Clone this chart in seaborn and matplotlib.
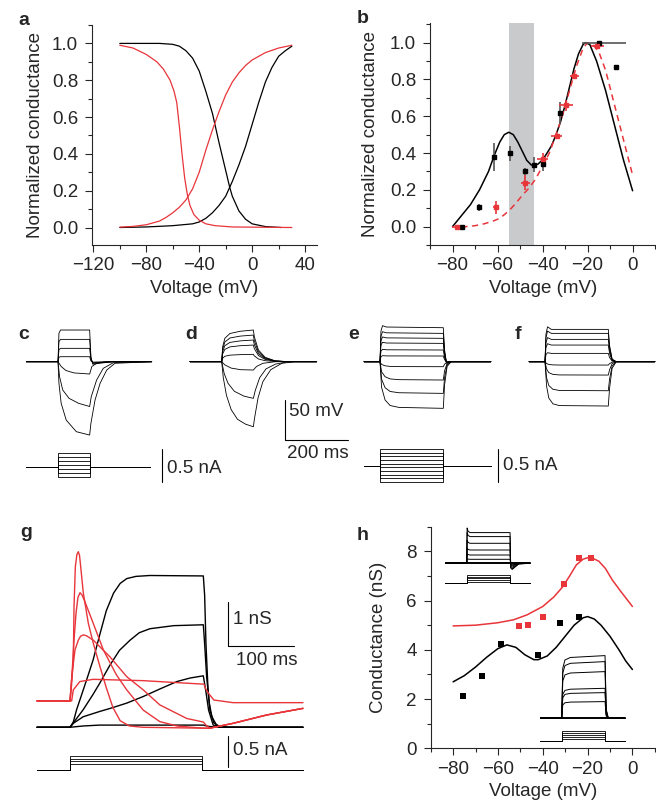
import matplotlib.pyplot as plt
import numpy as np
import seaborn as sns
from matplotlib.ticker import MultipleLocator

sns.set_style('ticks')
plt.rcParams['font.family'] = ['Liberation Sans', 'DejaVu Sans']
plt.rcParams['font.size'] = 13.5

W, H = 656, 802
RED = '#e8353a'
BAND = '#c9cacc'
FS = 13.5

# ---------------- a: activation / inactivation (mV, normalized g)
a_blk_act_v = [-100, -80, -60, -45, -40, -35, -30, -25, -20, -15, -10, -5, 0, 5, 10, 15, 20, 25, 30]
a_blk_act_g = [0.0, 0.003, 0.01, 0.02, 0.03, 0.05, 0.08, 0.12, 0.17, 0.25, 0.34, 0.44, 0.56, 0.68, 0.79, 0.87, 0.93, 0.96, 0.985]
a_blk_inact_v = [-100, -70, -60, -55, -50, -45, -40, -35, -30, -25, -20, -17, -15, -10, -5, 0, 10, 22]
a_blk_inact_g = [1.0, 1.0, 0.995, 0.985, 0.96, 0.92, 0.85, 0.74, 0.62, 0.46, 0.31, 0.22, 0.17, 0.09, 0.045, 0.02, 0.005, 0.0]
a_red_act_v = [-100, -90, -80, -70, -65, -60, -55, -50, -45, -40, -35, -30, -25, -20, -15, -10, -5, 0, 10, 20, 30]
a_red_act_g = [0.002, 0.006, 0.015, 0.035, 0.055, 0.08, 0.11, 0.15, 0.21, 0.3, 0.42, 0.53, 0.63, 0.72, 0.79, 0.84, 0.88, 0.91, 0.95, 0.975, 0.99]
a_red_inact_v = [-100, -90, -80, -72, -67, -62, -59, -57, -55, -53, -51, -49, -47, -44, -40, -35, -28, -15, 30]
a_red_inact_g = [0.99, 0.975, 0.94, 0.9, 0.86, 0.8, 0.74, 0.68, 0.55, 0.4, 0.27, 0.18, 0.12, 0.07, 0.04, 0.02, 0.01, 0.003, 0.0]

# ---------------- b: conductance vs voltage
b_blk_fit_v = [-80, -76, -72, -68, -64, -61.5, -59, -57, -55, -53, -51, -49, -47, -45, -43.7, -42, -40, -38,
               -36, -34, -32, -30, -28, -26, -24, -22, -21, -19, -16, -12, -8, -4, 0]
b_blk_fit_g = [0.0, 0.06, 0.12, 0.2, 0.3, 0.386, 0.46, 0.5, 0.513, 0.5, 0.46, 0.41, 0.36, 0.335, 0.332, 0.34,
               0.363, 0.40, 0.44, 0.5, 0.57, 0.66, 0.76, 0.86, 0.94, 0.99, 1.0, 0.99, 0.90, 0.74, 0.55, 0.36, 0.195]
b_red_fit_v = [-76, -74, -70, -66, -62, -59, -55, -52, -49, -46, -43, -40, -37, -34, -31, -28, -25, -22,
               -20, -18, -15, -12, -8, -4, 0]
b_red_fit_g = [-0.005, 0.0, 0.005, 0.015, 0.03, 0.045, 0.085, 0.125, 0.17, 0.21, 0.26, 0.33, 0.4, 0.5, 0.61,
               0.74, 0.87, 0.97, 1.0, 0.995, 0.95, 0.85, 0.66, 0.47, 0.28]
b_blk_v = [-75.6, -68.1, -61.6, -54.5, -47.7, -43.7, -40.0, -32.1, -14.8, -7.4]
b_blk_g = [0.0, 0.105, 0.377, 0.399, 0.301, 0.336, 0.34, 0.617, 0.998, 0.867]
b_blk_yerr = [0.0, 0.02, 0.075, 0.04, 0.02, 0.04, 0.04, 0.06, 0.0, 0.0]
b_blk_xerr = [[0, 0, 0, 0, 1.2, 0, 0, 0, 7.5, 0], [0, 0, 0, 0, 1.2, 0, 0, 0, 12, 0]]
b_red_v = [-78.2, -60.7, -47.7, -40.0, -33.8, -29.6, -25.9, -15.6]
b_red_g = [0.0, 0.105, 0.238, 0.37, 0.49, 0.66, 0.817, 0.98]
b_red_yerr = [0.0, 0.035, 0.04, 0.03, 0.0, 0.03, 0.0, 0.0]
b_red_xerr = [2.0, 1.5, 2.0, 2.5, 2.5, 3.0, 2.0, 3.0]
b_band = (-55, -44)

# ---------------- c-f: voltage responses (ms, mV from rest) and current steps (nA)
c_up_levels = [39.6, 27.9, 16.7, 6.25]
c_up_t = [-100, 0, 3, 8, 100, 104, 110, 130, 175, 296]
c_up_frac = [0, 0, 0.9, 1.0, 1.0, 0.15, -0.08, -0.05, 0, 0]
c_down = [
    ([-100, 0, 10, 25, 50, 100, 107, 122, 150, 296], [0, 0, -6, -11, -14, -15.4, -6, -2, 0, 0]),
    ([-100, 0, 5, 15, 35, 65, 100, 105, 122, 143, 175, 296], [0, 0, -18.8, -35.4, -45.8, -52, -56, -43.8, -22.9, -8.3, -1.2, 0]),
    ([-100, 0, 3, 10, 26, 58, 100, 104, 117, 133, 154, 180, 296], [0, 0, -27, -52, -73, -87.5, -91.7, -77, -48, -27, -10.4, -2, 0]),
]
c_steps = [0.21, 0.15, 0.09, 0.03, -0.03, -0.09, -0.15]

d_up_levels = [39.6, 33.3, 27.1, 20.8, 9.2]
d_up_t = [-100, 0, 3, 10, 26, 58, 100, 103, 116, 137, 168, 210, 300]
d_up_frac = [0, 0, 0.47, 0.74, 0.89, 0.96, 1.0, 0.79, 0.37, 0.14, 0.03, 0, 0]
d_down = [
    ([-100, 0, 10, 30, 60, 100, 110, 130, 170, 300], [0, 0, -4, -8, -10, -10.4, -6, -2, 0, 0]),
    ([-100, 0, 8, 20, 40, 70, 100, 106, 120, 140, 170, 210, 300], [0, 0, -15, -27, -37, -43, -45.8, -36, -20, -9, -3, 0, 0]),
    ([-100, 0, 5, 15, 30, 50, 75, 100, 104, 115, 130, 155, 190, 230, 300],
     [0, 0, -20, -42, -60, -72, -78, -81.3, -70, -45, -25, -10, -2, 0, 0]),
]

e_levels = [42.5, 35.4, 29.2, 22.9, 14.6, 7.1, -6.25, -22.9, -39.6, -58.3]
e_up_t = [-50, 0, 3, 8, 20, 200, 204, 210, 220, 350]
e_up_frac = [0, 0, 0.9, 1.06, 1.02, 1.0, 0.35, -0.04, 0, 0]
e_dn_t = [-50, 0, 5, 16, 32, 60, 200, 204, 212, 225, 350]
e_dn_frac = [0, 0, 0.55, 0.82, 0.94, 0.98, 1.0, 0.5, 0.1, 0, 0]
e_steps = [0.25, 0.19, 0.14, 0.08, 0.025, -0.025, -0.08, -0.14, -0.19, -0.24]

f_levels = [40.4, 35.4, 27.9, 20.8, 10.4, -4.2, -16.7, -36.3, -55.4]
f_up_t = [-50, 0, 3, 8, 20, 200, 204, 212, 225, 347]
f_up_frac = [0, 0, 0.85, 1.08, 1.0, 1.0, 0.5, 0.08, 0, 0]
f_dn_t = [-50, 0, 5, 12, 25, 45, 200, 204, 212, 225, 347]
f_dn_frac = [0, 0, 0.55, 0.82, 0.95, 0.99, 1.0, 0.6, 0.15, 0, 0]

# ---------------- g: conductance time courses (ms, nS)
g_black = [
    ([-50, 0, 5, 10, 25, 35, 45, 55, 66, 76, 86, 100, 121, 202, 204, 206, 209, 212, 218, 225, 240, 353],
     [0, 0, 0.12, 0.4, 1.07, 1.53, 2.1, 2.65, 3.05, 3.27, 3.38, 3.43, 3.45, 3.44, 3.0, 1.9, 0.9, 0.39, 0.1, 0.03, 0, 0]),
    ([-50, 0, 10, 20, 35, 45, 60, 75, 91, 105, 121, 157, 202, 204, 207, 211, 215, 222, 235, 353],
     [0, 0, 0.2, 0.4, 0.75, 1.0, 1.4, 1.75, 1.98, 2.15, 2.24, 2.31, 2.33, 1.9, 1.15, 0.55, 0.24, 0.05, 0, 0]),
    ([-50, 0, 5, 20, 45, 61, 86, 111, 136, 162, 182, 202, 206, 210, 217, 230, 353],
     [0, 0, 0.09, 0.24, 0.36, 0.43, 0.55, 0.7, 0.87, 1.04, 1.12, 1.17, 0.8, 0.39, 0.05, 0, 0]),
    ([-50, 0, 20, 45, 202, 210, 225, 353], [0, 0, 0.03, 0.05, 0.05, 0.02, 0, 0]),
]
g_red = [
    ([-50, 0, 2.5, 5, 15, 35, 111, 203, 206, 210, 218, 247, 353],
     [0.6, 0.6, 0.6, 0.85, 1.04, 1.09, 1.06, 0.98, 0.86, 0.77, 0.62, 0.56, 0.56]),
    ([-50, 0, 2, 5, 6.1, 8.1, 10.5, 12.6, 14.5, 16.2, 20.2, 27.8, 35.3, 45, 55, 65, 76, 90, 111, 203, 212, 247, 298, 353],
     [0.6, 0.6, 0.9, 1.52, 2.74, 3.65, 3.93, 3.99, 3.9, 3.65, 3.05, 2.36, 1.91, 1.4, 0.9, 0.45, 0.15, 0.03, 0, -0.02, -0.02, 0.09, 0.28, 0.43]),
    ([-50, 0, 3, 6.1, 9.1, 12, 15.2, 18.5, 22.7, 35.3, 50.5, 70, 86, 111, 136, 162, 185, 203, 212, 247, 298, 353],
     [0.6, 0.6, 1.2, 1.98, 2.59, 2.95, 3.06, 3.0, 2.85, 2.36, 1.76, 1.2, 0.85, 0.39, 0.13, 0.03, 0, -0.02, -0.02, 0.09, 0.28, 0.43]),
    ([-50, 0, 3, 7.6, 12.6, 16, 20.2, 25, 35.3, 60.6, 86, 111, 136, 177, 202, 206, 212, 247, 298, 353],
     [0.6, 0.6, 1.2, 1.76, 1.98, 2.07, 2.1, 2.08, 1.98, 1.6, 1.15, 0.85, 0.51, 0.2, 0.12, 0.05, -0.02, 0.09, 0.28, 0.43]),
]
g_steps = [0.23, 0.18, 0.14, 0.1]

# ---------------- h: conductance vs voltage with insets
h_red_fit_v = [-80, -70, -60, -53, -47, -40, -35, -31, -28, -25, -22, -20, -18, -15, -12, -9, -5, 0]
h_red_fit_g = [4.97, 5.0, 5.1, 5.22, 5.42, 5.76, 6.15, 6.57, 7.0, 7.45, 7.68, 7.74, 7.73, 7.6, 7.3, 6.84, 6.35, 5.76]
h_blk_fit_v = [-80, -75, -70, -65, -60, -56, -52, -48, -44, -42, -38, -34, -30, -26, -22, -20, -17, -14, -10, -6, -3, 0]
h_blk_fit_g = [2.7, 2.95, 3.3, 3.7, 4.05, 4.2, 4.1, 3.8, 3.6, 3.6, 3.75, 4.1, 4.55, 5.0, 5.3, 5.35, 5.25, 5.0, 4.55, 4.0, 3.55, 3.2]
h_blk_v = [-75.6, -67.1, -58.8, -41.9, -32.1, -23.7]
h_blk_g = [2.14, 2.94, 4.24, 3.77, 5.08, 5.35]
h_red_v = [-50.8, -46.4, -39.7, -30.7, -23.7, -18.5]
h_red_g = [4.97, 5.01, 5.35, 6.68, 7.74, 7.74]
# insets (ms, pA) and their current steps (nA)
hi1_levels = [307, 267, 200, 133, 83, 40]
hi1_t = [-100, 0, 2, 6, 15, 200, 203, 210, 240, 292]
hi1_frac = [0, 0, 1.15, 1.05, 1.0, 1.0, -0.15, -0.2, -0.02, 0]
hi1_steps = [0.05, 0.1, 0.15, 0.2, 0.25]
hi2_levels = [627, 567, 467, 300, 257, 167]
hi2_t = [-100, 0, 5, 15, 40, 200, 205, 215, 292]
hi2_frac = [0, 0, 0.8, 0.93, 0.97, 1.0, 0.15, 0, 0]
hi2_steps = [0.06, 0.12, 0.18, 0.24, 0.3]

fig = plt.figure(figsize=(W / 100, H / 100), dpi=100)


def px_axes(left, top, width, height):
    return fig.add_axes([left / W, 1 - (top + height) / H, width / W, height / H])


def trace_axes(left, top, width, height, x0, y0, sx, sy):
    # axes whose data origin sits at pixel (x0, y0), sx/sy pixels per data unit
    ax = px_axes(left, top, width, height)
    ax.set_xlim((left - x0) / sx, (left + width - x0) / sx)
    ax.set_ylim((y0 - top - height) / sy, (y0 - top) / sy)
    ax.axis('off')
    return ax


def style_ax(ax, xmin, ymin):
    sns.despine(ax=ax)
    for s in ['left', 'bottom']:
        ax.spines[s].set_linewidth(0.8)
    ax.tick_params(which='major', direction='out', length=5, width=0.8, labelsize=FS)
    ax.tick_params(which='minor', direction='out', length=3, width=0.8)
    ax.tick_params(axis='y', pad=5)
    ax.tick_params(axis='x', pad=4)
    ax.xaxis.set_minor_locator(MultipleLocator(xmin))
    ax.yaxis.set_minor_locator(MultipleLocator(ymin))
    ax.set_xlabel('Voltage (mV)', labelpad=4, fontsize=FS)


def steps(ax, levels, t_on, t_off, t0, t1):
    for lv in levels:
        ax.plot([t0, t_on, t_on, t_off, t_off, t1], [0, 0, lv, lv, 0, 0], color='k', lw=0.6)


def family(ax, levels, t_up, f_up, t_dn, f_dn, lw=0.6):
    for lv in levels:
        if lv >= 0:
            ax.plot(t_up, np.array(f_up) * lv, color='k', lw=lw)
        else:
            ax.plot(t_dn, np.array(f_dn) * lv, color='k', lw=lw)


# ---- a
ax = px_axes(92, 25, 225, 220)
sns.lineplot(x=a_blk_act_v, y=a_blk_act_g, ax=ax, color='k', lw=0.9)
sns.lineplot(x=a_blk_inact_v, y=a_blk_inact_g, ax=ax, color='k', lw=0.9)
sns.lineplot(x=a_red_act_v, y=a_red_act_g, ax=ax, color=RED, lw=0.9)
sns.lineplot(x=a_red_inact_v, y=a_red_inact_g, ax=ax, color=RED, lw=0.9)
ax.set_xlim(-121, 49)
ax.set_ylim(-0.095, 1.1)
ax.set_xticks([-120, -80, -40, 0, 40])
ax.set_yticks([0, 0.2, 0.4, 0.6, 0.8, 1.0])
style_ax(ax, 20, 0.1)
ax.set_ylabel('Normalized conductance', labelpad=6, fontsize=FS)

# ---- b
ax = px_axes(430, 23, 226, 222)
ax.axvspan(*b_band, color=BAND, lw=0, zorder=0)
sns.lineplot(x=b_blk_fit_v, y=b_blk_fit_g, ax=ax, color='k', lw=1.1)
ax.plot(b_red_fit_v, b_red_fit_g, color=RED, lw=1.1, ls=(0, (4, 3)))
ax.errorbar(b_blk_v, b_blk_g, yerr=b_blk_yerr, xerr=b_blk_xerr, fmt='s', ms=3.2, color='k',
            ecolor='#555555', elinewidth=1.2, capsize=0, zorder=4)
ax.errorbar(b_red_v, b_red_g, yerr=b_red_yerr, xerr=b_red_xerr, fmt='s', ms=3.2, color=RED,
            ecolor=RED, elinewidth=1.2, capsize=0, zorder=4)
ax.set_xlim(-90, 10.4)
ax.set_ylim(-0.1, 1.107)
ax.set_xticks([-80, -60, -40, -20, 0])
ax.set_yticks([0, 0.2, 0.4, 0.6, 0.8, 1.0])
style_ax(ax, 10, 0.1)
ax.set_ylabel('Normalized conductance', labelpad=8, fontsize=FS)

# ---- c
SX, SY = 0.3165, 0.8
ax = trace_axes(20, 318, 145, 125, 58, 361.7, SX, SY)
family(ax, c_up_levels, c_up_t, c_up_frac, c_up_t, c_up_frac)
for t, v in c_down:
    ax.plot(t, v, color='k', lw=0.6)
ax = trace_axes(20, 440, 190, 50, 58, 466.7, SX, 66)
steps(ax, c_steps, 0, 100, -100, 290)
ax.plot([328, 328], [0.27, -0.23], color='k', lw=0.8)
ax.text(345, -0.02, '0.5 nA', va='center', ha='left', fontsize=FS)

# ---- d (with shared scale bar)
ax = trace_axes(180, 318, 180, 145, 221.7, 361.7, SX, SY)
family(ax, d_up_levels, d_up_t, d_up_frac, d_up_t, d_up_frac)
for t, v in d_down:
    ax.plot(t, v, color='k', lw=0.6)
ax.plot([200, 200, 400], [-48, -98, -98], color='k', lw=0.8)
ax.text(212, -62, '50 mV', va='center', ha='left', fontsize=FS)
ax.text(207, -104, '200 ms', va='top', ha='left', fontsize=FS)

# ---- e
ax = trace_axes(355, 318, 140, 125, 380, 361.7, SX, SY)
family(ax, e_levels, e_up_t, e_up_frac, e_dn_t, e_dn_frac)
ax = trace_axes(355, 440, 200, 50, 380, 465.7, SX, 66)
steps(ax, e_steps, 0, 200, -50, 350)
ax.plot([373, 373], [0.25, -0.25], color='k', lw=0.8)
ax.text(390, 0.0, '0.5 nA', va='center', ha='left', fontsize=FS)

# ---- f
ax = trace_axes(520, 318, 136, 125, 545, 361.7, SX, SY)
family(ax, f_levels, f_up_t, f_up_frac, f_dn_t, f_dn_frac)

# ---- g
ax = trace_axes(30, 540, 280, 195, 70, 727.3, 0.66, 44)
for t, gv in g_black:
    ax.plot(t, gv, color='k', lw=1.0)
for t, gv in g_red:
    ax.plot(t, gv, color=RED, lw=1.0)
ax.plot([240, 240, 340], [2.85, 1.85, 1.85], color='k', lw=0.8)
ax.text(247, 2.44, '1 nS', va='center', ha='left', fontsize=FS)
ax.text(252, 1.72, '100 ms', va='top', ha='left', fontsize=FS)
ax = trace_axes(30, 730, 280, 50, 70, 770, 0.66, 62)
steps(ax, g_steps, 0, 200, -50, 353)
ax.plot([240, 240], [0.55, 0.05], color='k', lw=0.8)
ax.text(247, 0.32, '0.5 nA', va='center', ha='left', fontsize=FS)

# ---- h
ax = px_axes(430.7, 526.7, 225, 221.6)
sns.lineplot(x=h_red_fit_v, y=h_red_fit_g, ax=ax, color=RED, lw=1.1)
sns.lineplot(x=h_blk_fit_v, y=h_blk_fit_g, ax=ax, color='k', lw=1.1)
sns.scatterplot(x=h_red_v, y=h_red_g, ax=ax, color=RED, marker='s', s=14, linewidth=0, zorder=4)
sns.scatterplot(x=h_blk_v, y=h_blk_g, ax=ax, color='k', marker='s', s=14, linewidth=0, zorder=4)
ax.set_xlim(-90, 10.4)
ax.set_ylim(0, 9)
ax.set_xticks([-80, -60, -40, -20, 0])
ax.set_yticks([0, 2, 4, 6, 8])
style_ax(ax, 10, 1)
ax.set_ylabel('Conductance (nS)', labelpad=14, fontsize=FS)

ax = trace_axes(445, 520, 86, 55, 466.7, 563.3, 0.2167, 0.1)
family(ax, hi1_levels, hi1_t, hi1_frac, hi1_t, hi1_frac, lw=0.7)
ax.plot([hi1_t[0], hi1_t[-1]], [0, 0], color='k', lw=1.4)
ax = trace_axes(445, 570, 86, 16, 466.7, 583.3, 0.2167, 33)
steps(ax, hi1_steps, 0, 200, -100, 292)

ax = trace_axes(540, 648, 86, 75, 561.7, 718.3, 0.2167, 0.1)
family(ax, hi2_levels, hi2_t, hi2_frac, hi2_t, hi2_frac, lw=0.7)
ax.plot([hi2_t[0], hi2_t[-1]], [0, 0], color='k', lw=1.4)
ax = trace_axes(540, 726, 86, 17, 561.7, 740.7, 0.2167, 33)
steps(ax, hi2_steps, 0, 200, -100, 292)

# ---- panel letters
for letter, x, y in [('a', 18, 25), ('b', 357, 23), ('c', 18, 339), ('d', 185, 339),
                     ('e', 348, 339), ('f', 515, 339), ('g', 20, 537), ('h', 357, 540)]:
    fig.text(x / W, 1 - y / H, letter, fontsize=14, fontweight='bold', va='baseline', ha='left')

fig.savefig('out.png', dpi=100, facecolor='white')
